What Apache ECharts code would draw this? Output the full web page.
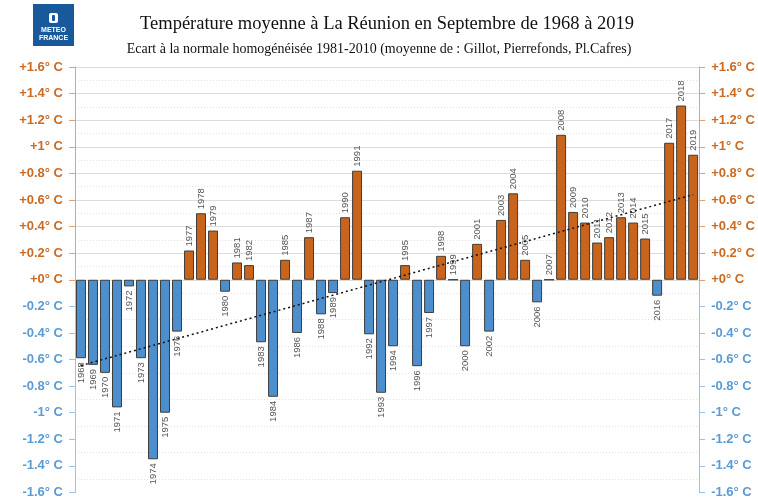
<!DOCTYPE html>
<html>
<head>
<meta charset="utf-8">
<script src="https://cdn.jsdelivr.net/npm/echarts@6/dist/echarts.min.js"></script>
<style>
  html, body { margin: 0; padding: 0; background: #fff; }
  #main { width: 758px; height: 499px; }
</style>
</head>
<body>
<div id="main"></div>
<script>
  // années (catégories)
  var years = ['1968','1969','1970','1971','1972','1973','1974','1975','1976','1977',
               '1978','1979','1980','1981','1982','1983','1984','1985','1986','1987',
               '1988','1989','1990','1991','1992','1993','1994','1995','1996','1997',
               '1998','1999','2000','2001','2002','2003','2004','2005','2006','2007',
               '2008','2009','2010','2011','2012','2013','2014','2015','2016','2017',
               '2018','2019'];

  // écart à la normale (°C)
  var anomalies = [-0.59, -0.64, -0.70, -0.96, -0.05, -0.59, -1.35, -1.00, -0.39, 0.22,
                   0.50, 0.37, -0.09, 0.13, 0.11, -0.47, -0.88, 0.15, -0.40, 0.32,
                   -0.26, -0.10, 0.47, 0.82, -0.41, -0.85, -0.50, 0.11, -0.65, -0.25,
                   0.18, 0.00, -0.50, 0.27, -0.39, 0.45, 0.65, 0.15, -0.17, 0.00,
                   1.09, 0.51, 0.43, 0.28, 0.32, 0.47, 0.43, 0.31, -0.12, 1.03,
                   1.31, 0.94];

  // tendance (extrémités)
  var trendYears = ['1968', '2019'];
  var trendValues = [-0.645, 0.64];

  // graduations
  var posTicks = [0, 0.2, 0.4, 0.6, 0.8, 1, 1.2, 1.4, 1.6];
  var negTicks = [-0.2, -0.4, -0.6, -0.8, -1, -1.2, -1.4, -1.6];

  var ORANGE = '#cc6a22';
  var BLUE = '#5b9bd5';
  var BAR_ORANGE = '#c8641c';
  var BAR_BLUE = '#4d8fcc';

  var chart = echarts.init(document.getElementById('main'));

  //ligne d'axe bicolore
  var axisGrad = new echarts.graphic.LinearGradient(0, 0, 0, 1, [
    { offset: 0, color: '#e6a070' },
    { offset: 0.5, color: '#e6a070' },
    { offset: 0.5, color: '#9cc3e6' },
    { offset: 1, color: '#9cc3e6' }
  ]);

  var fmt = function (v) {
    var n = parseFloat(Number(v).toFixed(1));
    return (n >= 0 ? '+' : '') + n + '° C';
  };

  var makeAxis = function (pos, vals, color, main) {
    return {
      type: 'value',
      position: pos,
      min: -1.6,
      max: 1.6,
      interval: 0.2,
      axisLine: { show: main, lineStyle: { color: axisGrad, width: 1 } },
      axisTick: { show: true, customValues: vals, length: 6, lineStyle: { color: color === ORANGE ? '#e6a070' : '#9cc3e6' } },
      axisLabel: {
        customValues: vals,
        color: color,
        fontFamily: 'Liberation Sans',
        fontWeight: 'bold',
        fontSize: 13,
        margin: 12,
        formatter: fmt
      },
      splitLine: { show: main && pos === 'left', lineStyle: { color: '#dcdcdc', width: 1 } },
      minorTick: { show: false, splitNumber: 2 },
      minorSplitLine: { show: main && pos === 'left', lineStyle: { color: '#e2e2e2', type: [1, 2] } }
    };
  };

  var barData = anomalies.map(function (v) {
    var pos = v >= 0;
    return {
      value: v,
      itemStyle: { color: pos ? BAR_ORANGE : BAR_BLUE },
      label: {
        position: pos ? 'top' : 'bottom',
        align: pos ? 'left' : 'right'
      }
    };
  });

  var option = {
    animation: false,
    title: [
      {
        text: 'Température moyenne à La Réunion en Septembre de 1968 à 2019',
        left: 382, top: 10, textAlign: 'center',
        textStyle: { fontFamily: 'Liberation Serif', fontWeight: 'normal', fontSize: 18.5, color: '#111' }
      },
      {
        text: 'Ecart à la normale homogénéisée 1981-2010 (moyenne de : Gillot, Pierrefonds, Pl.Cafres)',
        left: 374, top: 37, textAlign: 'center',
        textStyle: { fontFamily: 'Liberation Serif', fontWeight: 'normal', fontSize: 14, color: '#111' }
      }
    ],
    graphic: [
      {
        type: 'group', left: 33, top: 4,
        children: [
          { type: 'rect', shape: { x: 0, y: 0, width: 41, height: 42 }, style: { fill: '#17599a' } },
          { type: 'rect', shape: { x: 16, y: 9, width: 9, height: 10, r: 2 }, style: { fill: '#fff' } },
          { type: 'rect', shape: { x: 19, y: 11, width: 3, height: 6, r: 1 }, style: { fill: '#17599a' } },
          { type: 'text', x: 20.5, y: 23, style: { text: 'METEO', fill: '#fff', font: 'bold 7px Liberation Sans', align: 'center' } },
          { type: 'text', x: 20.5, y: 31, style: { text: 'FRANCE', fill: '#fff', font: 'bold 7px Liberation Sans', align: 'center' } }
        ]
      }
    ],
    grid: { left: 75, right: 58, top: 67, bottom: 5, containLabel: false },
    xAxis: {
      type: 'category',
      data: years,
      axisLine: { show: false },
      axisTick: { show: false },
      axisLabel: { show: false }
    },
    yAxis: [
      makeAxis('left', posTicks, ORANGE, true),
      makeAxis('left', negTicks, BLUE, false),
      makeAxis('right', posTicks, ORANGE, true),
      makeAxis('right', negTicks, BLUE, false)
    ],
    series: [
      {
        type: 'bar',
        data: barData,
        barCategoryGap: '17%',
        itemStyle: { borderColor: '#3d3d3d', borderWidth: 1 },
        label: {
          show: true,
          rotate: 90,
          distance: 4,
          verticalAlign: 'middle',
          formatter: function (p) { return p.name; },
          color: '#555',
          fontFamily: 'Liberation Sans',
          fontSize: 9.5
        },
        z: 2
      },
      {
        type: 'line',
        data: trendYears.map(function (y, i) { return [y, trendValues[i]]; }),
        symbol: 'none',
        lineStyle: { color: '#111', width: 1.5, type: [2, 3] },
        z: 5
      }
    ]
  };

  option && chart.setOption(option);
</script>
</body>
</html>
